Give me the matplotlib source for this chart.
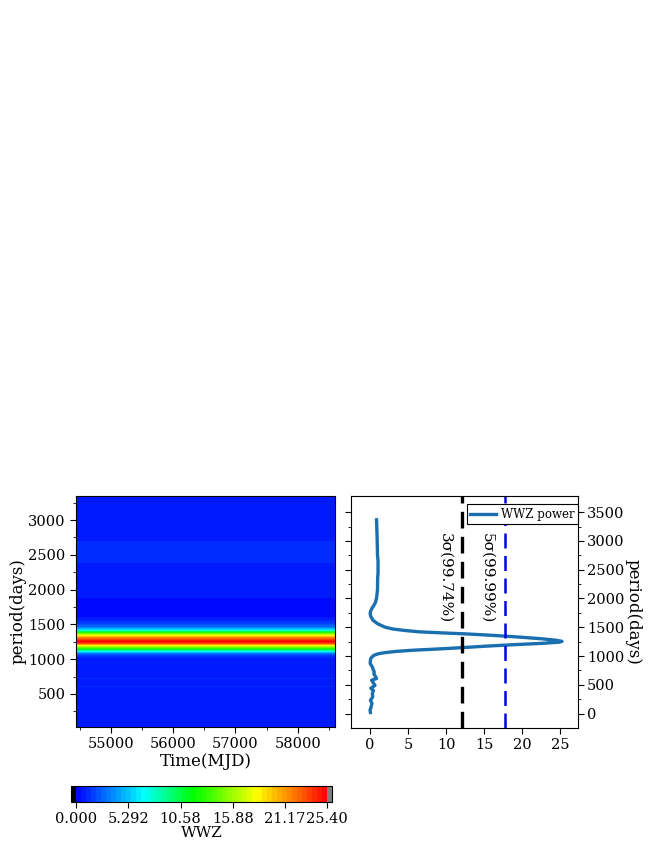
import numpy as np
import matplotlib
matplotlib.use('Agg')
import matplotlib.pyplot as plt
from matplotlib.colors import LinearSegmentedColormap

plt.rcParams['font.family'] = 'DejaVu Serif'

# time-averaged WWZ power vs period
period = [20, 60, 120, 180, 230, 290, 350, 400, 440, 490, 540, 580, 610, 650,
          690, 725, 770, 810, 870, 930, 960, 990, 1015, 1040, 1060, 1080,
          1100, 1120, 1145, 1170, 1195, 1220, 1240, 1255, 1275, 1300, 1330,
          1360, 1385, 1405, 1420, 1445, 1470, 1500, 1560, 1620, 1680, 1730,
          1770, 1830, 1915, 2000, 2150, 2350, 2450, 2650, 2750, 3100, 3366]
power = [0.55, 0.6, 0.7, 0.75, 0.55, 0.8, 0.7, 0.75, 0.6, 0.85, 0.7, 0.6,
         1.1, 0.8, 0.7, 1.1, 0.7, 0.6, 0.55, 0.55, 0.6, 0.7, 0.9, 1.3,
         2.0, 3.4, 5.5, 8.5, 12.0, 15.0, 18.5, 22.5, 24.8, 25.2, 24.4, 22.5,
         19.5, 16.0, 12.5, 9.0, 6.5, 4.5, 3.0, 2.0, 1.0, 0.4, 0.12, 0.02, 0.05,
         0.25, 0.66, 0.85, 0.98, 1.0, 1.05, 1.05, 0.98, 0.92, 0.85]
mjd = [54440, 58600]

# plotted curve at low periods wiggles closer to zero than the heatmap rows
curve_low = [0.05, 0.0, 0.15, 0.25, 0.05, 0.35, 0.30, 0.45, 0.10, 0.65, 0.40,
             0.20, 0.85, 0.70, 0.50, 0.55, 0.40, 0.30, 0.02, 0.05, 0.10, 0.30,
             0.55, 1.1]

sig3 = 12.1
sig5 = 17.7
cb_ticks = [0.0, 5.292, 10.58, 15.88, 21.17, 25.40]
cb_labels = ['0.000', '5.292', '10.58', '15.88', '21.17', '25.40']

cmap = LinearSegmentedColormap.from_list(
    'wwz', [(0, '#0000ff'), (0.27, '#00ffff'), (0.47, '#00ff00'),
            (0.72, '#ffff00'), (1, '#ff0000')])
cmap = cmap.with_extremes(under='black', over='#808080')

fig = plt.figure(figsize=(6.64, 8.6), dpi=100)
W, H = 664, 860

def px_axes(x0, x1, y0, y1):
    return fig.add_axes([x0 / W, 1 - y1 / H, (x1 - x0) / W, (y1 - y0) / H])

#left: heatmap
ax1 = px_axes(76, 335, 496, 727)
T, P = np.meshgrid(mjd, period)
Z = np.tile(np.array(power)[:, None], (1, len(mjd)))
levels = np.linspace(0, 25.40, 51)
cs = ax1.contourf(T, P, Z, levels=levels, cmap=cmap, extend='both')
ax1.set_xlim(54440, 58600)
ax1.set_ylim(25, 3345)
ax1.set_xticks([55000, 56000, 57000, 58000])
ax1.set_xticks([54500, 55500, 56500, 57500, 58500], minor=True)
ax1.set_yticks([500, 1000, 1500, 2000, 2500, 3000])
ax1.set_yticks(np.arange(250, 3300, 250), minor=True)
ax1.tick_params(which='both', direction='out', labelsize=10.5)
ax1.tick_params(which='major', length=4)
ax1.tick_params(which='minor', length=2.5)
ax1.set_xlabel('Time(MJD)', fontsize=12, labelpad=1)
ax1.set_ylabel('period(days)', fontsize=12, labelpad=1)

#right: power curve
curve = curve_low + power[len(curve_low):]
ax2 = px_axes(351, 578, 496, 728)
ax2.plot(curve, period, color='#1a6faf', lw=2.4, label='WWZ power')
ax2.axvline(sig3, color='black', lw=2.4, ls=(0, (5, 2.5)))
ax2.axvline(sig5, color='#0000ee', lw=1.8, ls=(0, (6, 3)))
ax2.text(9.9, 2356, '3σ(99.74%)', rotation=-90, ha='center', va='center', fontsize=11)
ax2.text(15.4, 2356, '5σ(99.99%)', rotation=-90, ha='center', va='center', fontsize=11)
ax2.set_xlim(-2.5, 27.3)
ax2.set_ylim(-250, 3780)
ax2.set_xticks([0, 5, 10, 15, 20, 25])
ax2.set_yticks(np.arange(0, 3501, 500))
ax2.set_yticks(np.arange(250, 3700, 500), minor=True)
ax2.tick_params(axis='y', which='both', left=True, right=True,
                labelleft=False, labelright=True, direction='out', pad=2.5)
ax2.tick_params(which='both', labelsize=10.5)
ax2.tick_params(which='major', length=4)
ax2.tick_params(which='minor', length=2.5)
ax2.yaxis.set_label_position('right')
ax2.set_ylabel('period(days)', fontsize=12, rotation=-90, va='bottom', labelpad=0)
leg = ax2.legend(loc='upper right', bbox_to_anchor=(1.0, 0.965), fontsize=8.5,
                 fancybox=False, edgecolor='black', framealpha=1,
                 borderaxespad=0, borderpad=0.3, handlelength=2.2,
                 handletextpad=0.4)
leg.get_frame().set_linewidth(0.8)

#colorbar
cax = px_axes(71, 332, 786, 802)
cb = fig.colorbar(cs, cax=cax, orientation='horizontal', ticks=cb_ticks,
                  extendrect=True, extendfrac=0.02)
cb.ax.set_xticklabels(cb_labels)
cb.ax.tick_params(labelsize=10.5, length=4)
cb.set_label('WWZ', fontsize=11, labelpad=0)

fig.savefig('out.png', dpi=100)
